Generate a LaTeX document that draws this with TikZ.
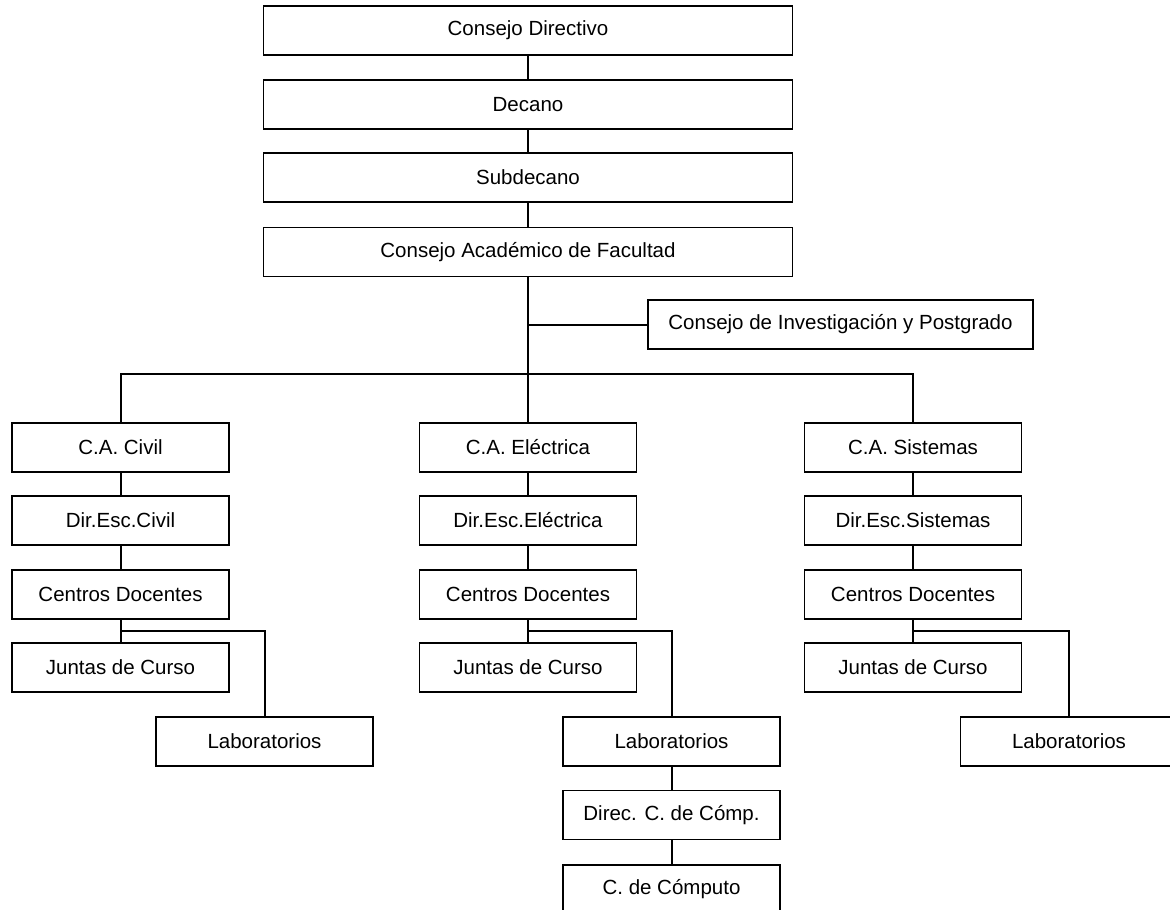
\documentclass[tikz,border=0pt]{standalone}
\usepackage{fontspec}
\setmainfont{Liberation Sans}
\usetikzlibrary{calc}

\begin{document}
\begin{tikzpicture}[x=0.5pt,y=-0.5pt,
    box/.style={draw,line width=0.6pt,inner sep=0pt,minimum height=24.5pt,font=\fontsize{10.25}{12}\selectfont},
    col/.style={box,minimum width=108.5pt},
    link/.style={line width=1pt}]

      \useasboundingbox (0,0) rectangle (1170,909);
      \clip (0,0) rectangle (1170,909);

      % top of the chart
      \node[box,minimum width=264.5pt] (cd) at (528,30.5) {Consejo Directivo};
      \node[box,minimum width=264.5pt] (dec) at (528,104.5) {Decano};
      \node[box,minimum width=264.5pt] (sub) at (528,177.5) {Subdecano};
      \node[box,minimum width=264.5pt] (caf) at (528,252) {Consejo Académico de Facultad};
      \node[box,minimum width=192.5pt] (cip) at (840.5,324.5) {Consejo de Investigación y Postgrado};

      % three schools
      \node[col] (caC) at (120.5,447.5) {C.A. Civil};
      \node[col] (dirC) at (120.5,520.5) {Dir.Esc.Civil};
      \node[col] (cdC) at (120.5,594.5) {Centros Docentes};
      \node[col] (junC) at (120.5,667.5) {Juntas de Curso};
      \node[col] (labC) at (264.5,741.5) {Laboratorios};

      \node[col] (caE) at (528,447.5) {C.A. Eléctrica};
      \node[col] (dirE) at (528,520.5) {Dir.Esc.Eléctrica};
      \node[col] (cdE) at (528,594.5) {Centros Docentes};
      \node[col] (junE) at (528,667.5) {Juntas de Curso};
      \node[col] (labE) at (671.5,741.5) {Laboratorios};
      \node[col] (dccE) at (671.5,815) {Direc. C. de Cómp.};
      \node[col] (ccE) at (671.5,889.5) {C. de Cómputo};

      \node[col] (caS) at (913,447.5) {C.A. Sistemas};
      \node[col] (dirS) at (913,520.5) {Dir.Esc.Sistemas};
      \node[col] (cdS) at (913,594.5) {Centros Docentes};
      \node[col] (junS) at (913,667.5) {Juntas de Curso};
      \node[col] (labS) at (1069,741.5) {Laboratorios};

      \coordinate (bus) at (528,374);

      % lines
      \draw[link] (cd) -- (dec);
      \draw[link] (dec) -- (sub);
      \draw[link] (sub) -- (caf);
      \draw[link] (caf) -- (caE);
      \draw[link] (caf.south |- cip.west) -- (cip.west);
      \draw[link] (caC.north) |- (bus) -| (caS.north);

      \foreach \s in {C,E,S} {
        \draw[link] (ca\s) -- (dir\s);
        \draw[link] (dir\s) -- (cd\s);
        \draw[link] (cd\s) -- (jun\s);
        \draw[link] ($(cd\s.south)!0.5!(jun\s.north)$) -| (lab\s.north);
      }
      \draw[link] (labE) -- (dccE);
      \draw[link] (dccE) -- (ccE);

\end{tikzpicture}
\end{document}
